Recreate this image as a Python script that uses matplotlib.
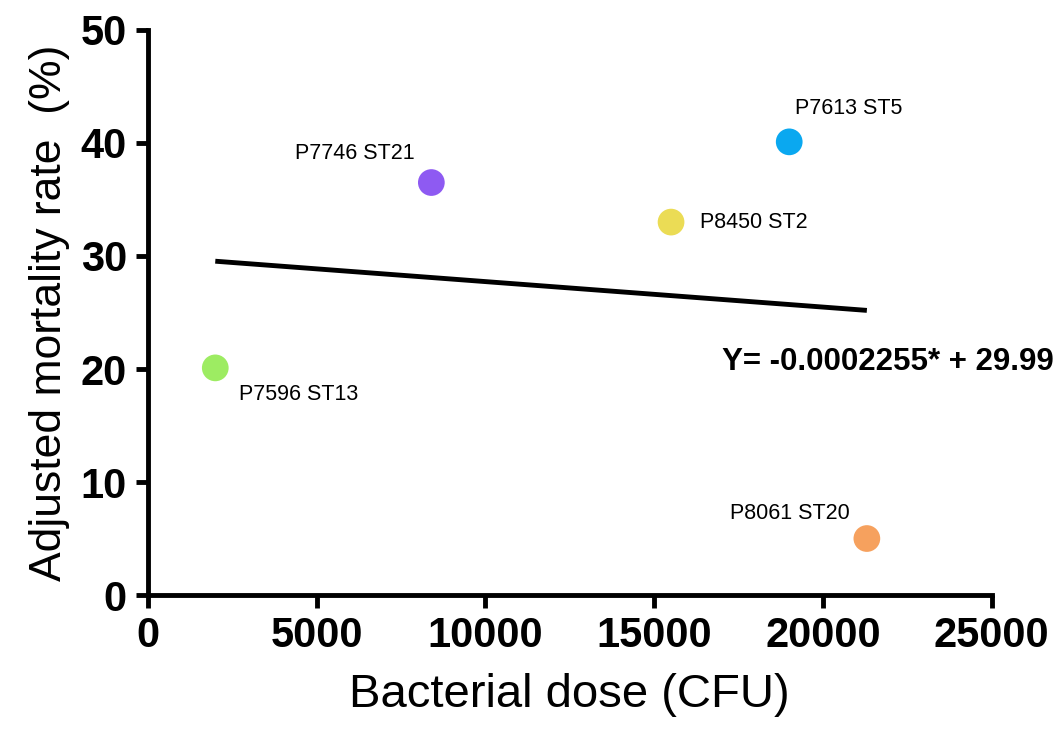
import matplotlib.pyplot as plt
import numpy as np

plt.rcParams['font.family'] = ['Liberation Sans', 'DejaVu Sans']

# strains: dose (CFU) vs adjusted mortality (%)
strains = ['P7596 ST13', 'P7746 ST21', 'P8450 ST2', 'P7613 ST5', 'P8061 ST20']
dose = [2000, 8400, 15500, 19000, 21300]
mortality = [20.1, 36.5, 33.0, 40.1, 5.0]
colors = ['#9DEC62', '#8E5AF2', '#EBDC55', '#0AA8F0', '#F6A15E']

# linear fit as printed on the chart
slope = -0.0002255
intercept = 29.99

# label offsets (points) and alignment for each strain label
label_offsets = [(17, -19), (-12, 21), (21, 0), (4, 24), (-12, 18)]
label_ha = ['left', 'right', 'left', 'left', 'right']

fig = plt.figure(figsize=(10.63, 7.31), dpi=100)
ax = fig.add_axes([0.139, 0.186, 0.794, 0.773])

xfit = np.array([min(dose), max(dose)])
ax.plot(xfit, slope * xfit + intercept, color='black', lw=3.5, solid_capstyle='butt', zorder=2)

ax.scatter(dose, mortality, s=370, c=colors, edgecolors='none', zorder=3)

for name, x, y, off, ha in zip(strains, dose, mortality, label_offsets, label_ha):
    ax.annotate(name, (x, y), xytext=off, textcoords='offset points',
                ha=ha, va='center', fontsize=15.5)

ax.text(17000, 20.6, 'Y= -0.0002255* + 29.99', fontsize=22.5, fontweight='bold',
        va='center', ha='left')

ax.set_xlim(0, 25000)
ax.set_ylim(0, 50)
ax.set_xticks(np.arange(0, 25001, 5000))
ax.set_yticks(np.arange(0, 51, 10))

for side in ['top', 'right']:
    ax.spines[side].set_visible(False)
for side in ['left', 'bottom']:
    ax.spines[side].set_linewidth(3.5)

ax.tick_params(axis='both', width=3.5, length=9, labelsize=30, pad=6)
for lab in ax.get_xticklabels() + ax.get_yticklabels():
    lab.set_fontweight('bold')

ax.set_xlabel('Bacterial dose (CFU)', fontsize=34, labelpad=12)
ax.set_ylabel('Adjusted mortality rate  (%)', fontsize=32, labelpad=8)

fig.savefig('out.png', dpi=100)
